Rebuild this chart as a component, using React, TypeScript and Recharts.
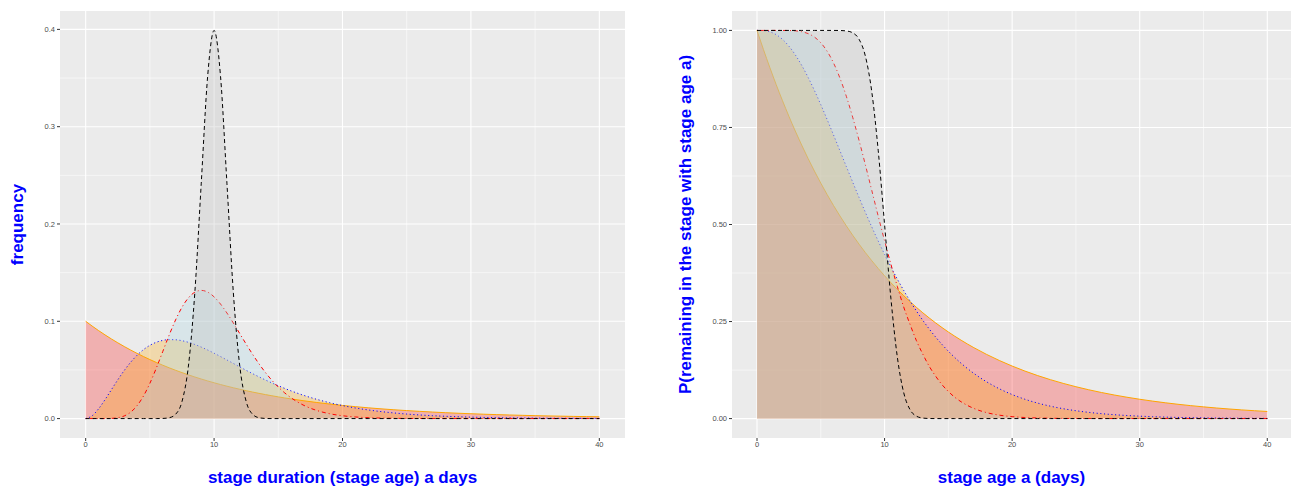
import React from 'react';
import { ComposedChart, Area, XAxis, YAxis, CartesianGrid, Label } from 'recharts';

// stage age a (days)
const ages = [0, 0.5, 1, 1.5, 2, 2.5, 3, 3.5, 4, 4.5, 5, 5.5, 6, 6.5, 7, 7.5, 8, 8.5, 9, 9.5, 10, 10.5, 11, 11.5, 12, 12.5, 13, 13.5, 14, 14.5, 15, 15.5, 16, 17, 18, 19, 20, 21, 22, 23, 24, 25, 26, 27, 28, 29, 30, 31, 32, 33, 34, 35, 36, 37, 38, 39, 40];

// left panel: frequency
const expDensity = [0.1, 0.09512, 0.09048, 0.08607, 0.08187, 0.07788, 0.07408, 0.07047, 0.06703, 0.06376, 0.06065, 0.0577, 0.05488, 0.0522, 0.04966, 0.04724, 0.04493, 0.04274, 0.04066, 0.03867, 0.03679, 0.03499, 0.03329, 0.03166, 0.03012, 0.02865, 0.02725, 0.02592, 0.02466, 0.02346, 0.02231, 0.02122, 0.02019, 0.01827, 0.01653, 0.01496, 0.01353, 0.01225, 0.01108, 0.01003, 0.00907, 0.00821, 0.00743, 0.00672, 0.00608, 0.0055, 0.00498, 0.0045, 0.00408, 0.00369, 0.00334, 0.00302, 0.00273, 0.00247, 0.00224, 0.00202, 0.00183];
const gamma3Density = [0, 0.0029, 0.01, 0.01937, 0.02964, 0.03986, 0.0494, 0.05787, 0.06506, 0.07087, 0.07531, 0.07843, 0.08034, 0.08115, 0.08101, 0.08004, 0.07838, 0.07616, 0.07349, 0.07048, 0.06721, 0.06378, 0.06025, 0.05668, 0.05312, 0.04961, 0.04618, 0.04287, 0.03968, 0.03663, 0.03374, 0.03101, 0.02844, 0.02379, 0.01976, 0.01631, 0.01339, 0.01093, 0.00889, 0.0072, 0.00581, 0.00467, 0.00374, 0.00299, 0.00238, 0.0019, 0.0015, 0.00119, 0.00094, 0.00074, 0.00058, 0.00046, 0.00036, 0.00028, 0.00022, 0.00017, 0.00013];
const gamma10Density = [0, 0, 0.000001, 0.000024, 0.00019, 0.00086, 0.0027, 0.00656, 0.01323, 0.02316, 0.03627, 0.05187, 0.06884, 0.08581, 0.1014, 0.11444, 0.12408, 0.12987, 0.13176, 0.13, 0.12511, 0.11772, 0.10853, 0.0982, 0.08736, 0.07652, 0.06605, 0.05627, 0.04734, 0.03938, 0.03241, 0.0264, 0.02131, 0.01353, 0.00833, 0.00498, 0.00291, 0.00166, 0.00093, 0.00051, 0.00028, 0.00015, 0.00008, 0.00004, 0.00002, 0.00001, 0.000005, 0, 0, 0, 0, 0, 0, 0, 0, 0, 0];
const normalDensity = [0, 0, 0, 0, 0, 0, 0, 0, 0, 0, 0.0000015, 0.000016, 0.000134, 0.000873, 0.004432, 0.017528, 0.053991, 0.129518, 0.241971, 0.352065, 0.398942, 0.352065, 0.241971, 0.129518, 0.053991, 0.017528, 0.004432, 0.000873, 0.000134, 0.000016, 0.0000015, 0, 0, 0, 0, 0, 0, 0, 0, 0, 0, 0, 0, 0, 0, 0, 0, 0, 0, 0, 0, 0, 0, 0, 0, 0, 0];

// right panel: P(remaining in the stage with stage age a)
const expSurvival = [1, 0.95123, 0.90484, 0.86071, 0.81873, 0.7788, 0.74082, 0.70469, 0.67032, 0.63763, 0.60653, 0.57695, 0.54881, 0.52205, 0.49659, 0.47237, 0.44933, 0.42741, 0.40657, 0.38674, 0.36788, 0.34994, 0.33287, 0.31664, 0.30119, 0.2865, 0.27253, 0.25924, 0.2466, 0.23457, 0.22313, 0.21225, 0.2019, 0.18268, 0.1653, 0.14957, 0.13534, 0.12246, 0.1108, 0.10026, 0.09072, 0.08208, 0.07427, 0.06721, 0.06081, 0.05502, 0.04979, 0.04505, 0.04076, 0.03688, 0.03337, 0.0302, 0.02732, 0.02472, 0.02237, 0.02024, 0.01832];
const gamma3Survival = [1, 0.9995, 0.9964, 0.98912, 0.97689, 0.9595, 0.93714, 0.91028, 0.87949, 0.84545, 0.80885, 0.77036, 0.73062, 0.69021, 0.64963, 0.60934, 0.56971, 0.53106, 0.49363, 0.45762, 0.42319, 0.39044, 0.35943, 0.3302, 0.30275, 0.27707, 0.25313, 0.23086, 0.21024, 0.19117, 0.17358, 0.1574, 0.14254, 0.11648, 0.09477, 0.07677, 0.06198, 0.04984, 0.03996, 0.03196, 0.02549, 0.02025, 0.01608, 0.01274, 0.01005, 0.00794, 0.00623, 0.00489, 0.00384, 0.00301, 0.00235, 0.00183, 0.00143, 0.00111, 0.00087, 0.00067, 0.00052];
const gamma10Survival = [1, 1, 1, 1, 0.99995, 0.99972, 0.9989, 0.99669, 0.99187, 0.98291, 0.96817, 0.94622, 0.91608, 0.87738, 0.8305, 0.77641, 0.71662, 0.65304, 0.58741, 0.52183, 0.45793, 0.3973, 0.34051, 0.2873, 0.24239, 0.2005, 0.16581, 0.1347, 0.1094, 0.0874, 0.06985, 0.055, 0.0433, 0.02612, 0.01538, 0.00883, 0.005, 0.00279, 0.00153, 0.00083, 0.00044, 0.00023, 0.00012, 0.00006, 0.00003, 0.00002, 0.00001, 0, 0, 0, 0, 0, 0, 0, 0, 0, 0];
const normalSurvival = [1, 1, 1, 1, 1, 1, 1, 1, 1, 1, 1, 0.999997, 0.999968, 0.999767, 0.99865, 0.99379, 0.97725, 0.93319, 0.84134, 0.69146, 0.5, 0.30854, 0.15866, 0.06681, 0.02275, 0.00621, 0.00135, 0.00023, 0.00003, 0.000003, 0, 0, 0, 0, 0, 0, 0, 0, 0, 0, 0, 0, 0, 0, 0, 0, 0, 0, 0, 0, 0, 0, 0, 0, 0, 0, 0];

const xTicks = [0, 10, 20, 30, 40];
const xMinor = [5, 15, 25, 35];
const leftYTicks = [0, 0.1, 0.2, 0.3, 0.4];
const leftYMinor = [0.05, 0.15, 0.25, 0.35];
const rightYTicks = [0, 0.25, 0.5, 0.75, 1];
const rightYMinor = [0.125, 0.375, 0.625, 0.875];

const leftRows = ages.map((x, i) => ({ x, exp: expDensity[i], g3: gamma3Density[i], g10: gamma10Density[i], nrm: normalDensity[i] }));
const rightRows = ages.map((x, i) => ({ x, exp: expSurvival[i], g3: gamma3Survival[i], g10: gamma10Survival[i], nrm: normalSurvival[i] }));

const FONT = '"Liberation Sans", Arial, Helvetica, sans-serif';
const tickStyle = { fill: '#4D4D4D', fontSize: 7.5, fontFamily: FONT };
const titleStyle = { fill: '#0000FF', fontSize: 17, fontWeight: 700, fontFamily: FONT };

const YTitle = (props: any) => {
  const vb = props.viewBox || { x: 0, y: 0, width: 0, height: 0 };
  const cx = vb.x + props.dx;
  const cy = vb.y + vb.height / 2;
  return (
    <text x={cx} y={cy} dy="0.35em" transform={`rotate(-90 ${cx} ${cy})`} textAnchor="middle" {...titleStyle}>
      {props.text}
    </text>
  );
};

const XTitle = (props: any) => {
  const vb = props.viewBox || { x: 0, y: 0, width: 0, height: 0 };
  const cx = vb.x + vb.width / 2;
  const cy = vb.y + props.dy;
  return (
    <text x={cx} y={cy} dy="0.35em" textAnchor="middle" {...titleStyle}>
      {props.text}
    </text>
  );
};

const series = [
  { key: 'exp', stroke: '#FFA500', dash: undefined, fill: '#FF0000', op: 0.25 },
  { key: 'g3', stroke: '#0000FF', dash: '1.1 2.6', fill: '#FFA500', op: 0.27 },
  { key: 'g10', stroke: '#FF0000', dash: '1 3 4 3', fill: '#ADD8E6', op: 0.3 },
  { key: 'nrm', stroke: '#000000', dash: '4 3', fill: '#BEBEBE', op: 0.3 },
];

function Panel(props: any) {
  const { rows, width, yDomain, yTicks, yMinor, fmt, yAxisWidth, xDomain, yTitle, yTitleDx, xTitle, marginRight } = props;
  return (
    <ComposedChart width={width} height={486} data={rows} margin={{ top: 11, right: marginRight, bottom: 0, left: 0 }}>
      <CartesianGrid fill="#EBEBEB" stroke="#FFFFFF" strokeWidth={0.55} horizontalValues={yMinor} verticalValues={xMinor} />
      <CartesianGrid fill="none" stroke="#FFFFFF" strokeWidth={1.1} horizontalValues={yTicks} verticalValues={xTicks} />
      <XAxis
        dataKey="x"
        type="number"
        domain={xDomain}
        ticks={xTicks}
        interval={0}
        allowDataOverflow
        height={48}
        axisLine={false}
        tickLine={{ stroke: '#333333', strokeWidth: 1 }}
        tickSize={3}
        tickMargin={1}
        tick={tickStyle}
      >
        <Label content={(p: any) => <XTitle viewBox={p.viewBox} dy={39} text={xTitle} />} />
      </XAxis>
      <YAxis
        type="number"
        domain={yDomain}
        ticks={yTicks}
        interval={0}
        allowDataOverflow
        width={yAxisWidth}
        axisLine={false}
        tickLine={{ stroke: '#333333', strokeWidth: 1 }}
        tickSize={3}
        tickMargin={2}
        tick={tickStyle}
        tickFormatter={fmt}
      >
        <Label content={(p: any) => <YTitle viewBox={p.viewBox} dx={yTitleDx} text={yTitle} />} />
      </YAxis>
      {series.map((s) => (
        <Area
          key={s.key}
          dataKey={s.key}
          type="monotone"
          baseValue={0}
          stroke={s.stroke}
          strokeWidth={1}
          strokeDasharray={s.dash}
          fill={s.fill}
          fillOpacity={s.op}
          dot={false}
          activeDot={false}
          isAnimationActive={false}
        />
      ))}
    </ComposedChart>
  );
}

export default function App() {
  return (
    <div style={{ position: 'absolute', left: 0, top: 0, width: 1291, height: 486, background: '#FFFFFF', overflow: 'hidden' }}>
      <div style={{ position: 'absolute', left: 0, top: 0 }}>
        <Panel
          rows={leftRows}
          width={660}
          marginRight={35}
          yAxisWidth={60}
          xDomain={[-2, 42]}
          yDomain={[-0.01995, 0.41889]}
          yTicks={leftYTicks}
          yMinor={leftYMinor}
          fmt={(v: number) => v.toFixed(1)}
          yTitle="frequency"
          yTitleDx={17}
          xTitle="stage duration (stage age) a days"
        />
      </div>
      <div style={{ position: 'absolute', left: 660, top: 0 }}>
        <Panel
          rows={rightRows}
          width={631}
          marginRight={0}
          yAxisWidth={72}
          xDomain={[-1.96, 41.86]}
          yDomain={[-0.05, 1.05]}
          yTicks={rightYTicks}
          yMinor={rightYMinor}
          fmt={(v: number) => v.toFixed(2)}
          yTitle="P(remaining in the stage with stage age a)"
          yTitleDx={25}
          xTitle="stage age a (days)"
        />
      </div>
    </div>
  );
}
